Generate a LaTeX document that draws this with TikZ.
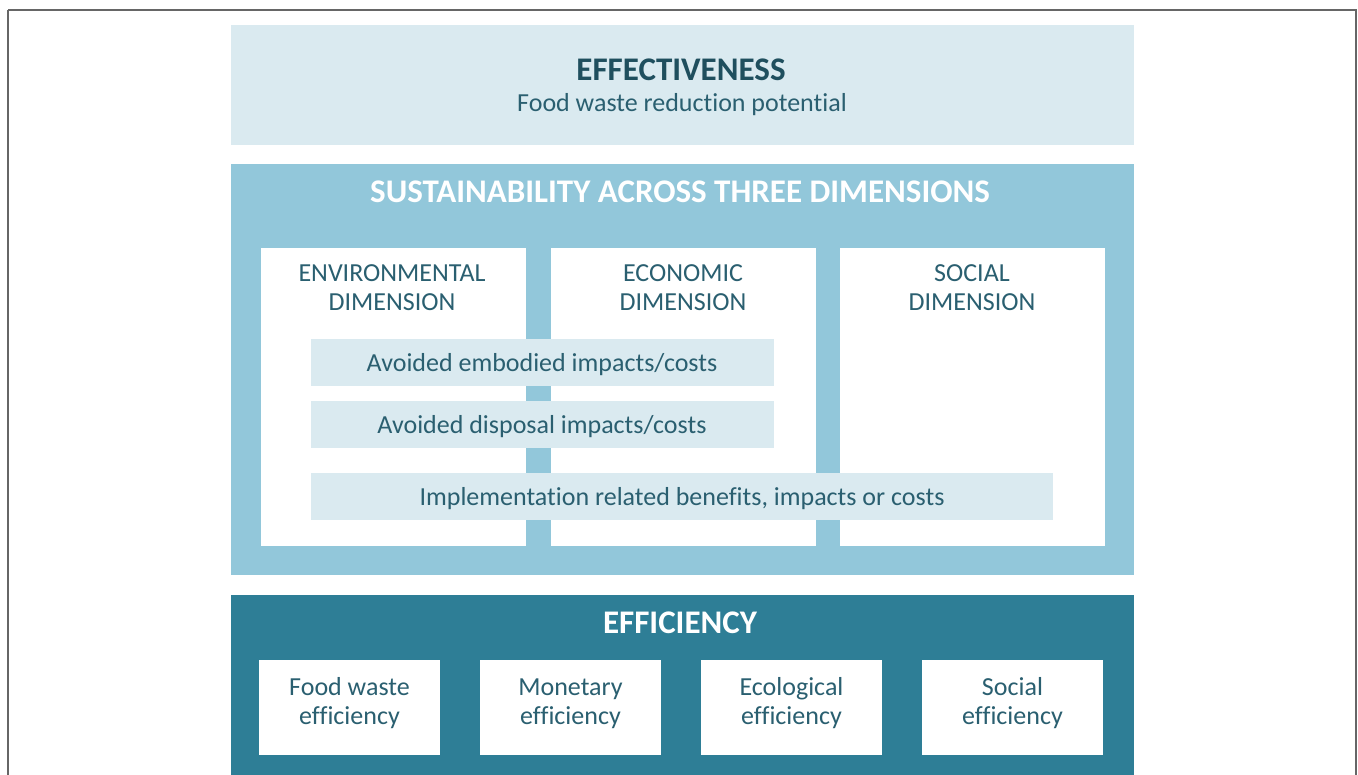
\documentclass[tikz,border=0pt]{standalone}
\usepackage{fontspec}
\setmainfont[Ligatures=NoCommon]{Carlito}
\definecolor{pale}{HTML}{DAEAF0}
\definecolor{mid}{HTML}{92C7DA}
\definecolor{deep}{HTML}{2E7E96}
\definecolor{txt}{HTML}{2A5F70}
\definecolor{ttl}{HTML}{1F4F5E}
\definecolor{frame}{HTML}{666666}
\tikzset{
  box/.style={draw=none, inner sep=0pt, outer sep=0pt, anchor=center},
  lbl/.style={inner sep=0pt, align=center, text=txt, font=\fontsize{26}{29}\selectfont},
  ttlbl/.style={inner sep=0pt, align=center, font=\bfseries\fontsize{33}{36}\selectfont},
}
\begin{document}
\begin{tikzpicture}[x=1pt,y=-1pt]
\useasboundingbox (0,0) rectangle (1358,775);
\fill[white] (0,0) rectangle (1358,775);
\draw[frame, line width=1.2pt] (8,10) -- (1356,10) -- (1356,790) (8,10) -- (8,790);
% effectiveness
\node[box, fill=pale, minimum width=903pt, minimum height=120pt] (eff) at (682.5,85) {};
\node[ttlbl, text=ttl] (efft) at (681,70) {EFFECTIVENESS};
\node[lbl] (effs) at (682,105) {Food waste reduction potential};
% sustainability
\node[box, fill=mid, minimum width=903pt, minimum height=411pt] (sus) at (682.5,369.5) {};
\node[ttlbl, text=white] (sust) at (680,192) {SUSTAINABILITY ACROSS THREE DIMENSIONS};
\node[box, fill=white, minimum width=265pt, minimum height=298pt] (env) at (393.5,397) {};
\node[box, fill=white, minimum width=265pt, minimum height=298pt] (eco) at (683,397) {};
\node[box, fill=white, minimum width=265pt, minimum height=298pt] (soc) at (972.5,397) {};
\node[lbl] (envt) at (392,288) {ENVIRONMENTAL\\DIMENSION};
\node[lbl] (ecot) at (683,288) {ECONOMIC\\DIMENSION};
\node[lbl] (soct) at (972,288) {SOCIAL\\DIMENSION};
\node[box, fill=pale, minimum width=463pt, minimum height=47pt] (emb) at (542,363) {};
\node[lbl] at ([yshift=-2pt]emb.center) {Avoided embodied impacts/costs};
\node[box, fill=pale, minimum width=463pt, minimum height=47pt] (dis) at (542,424.5) {};
\node[lbl] at ([yshift=-2.5pt]dis.center) {Avoided disposal impacts/costs};
\node[box, fill=pale, minimum width=742pt, minimum height=47pt] (imp) at (682,496.5) {};
\node[lbl] at ([yshift=-2.5pt]imp.center) {Implementation related benefits, impacts or costs};
% efficiency
\node[box, fill=deep, minimum width=903pt, minimum height=190pt] (effc) at (682.5,690) {};
\node[ttlbl, text=white] (effct) at (680,623) {EFFICIENCY};
\node[box, fill=white, minimum width=181pt, minimum height=95pt] (e1) at (349.5,707.5) {};
\node[box, fill=white, minimum width=181pt, minimum height=95pt] (e2) at (570.5,707.5) {};
\node[box, fill=white, minimum width=181pt, minimum height=95pt] (e3) at (791.5,707.5) {};
\node[box, fill=white, minimum width=181pt, minimum height=95pt] (e4) at (1012.5,707.5) {};
\node[lbl] at ([yshift=4pt]e1.center) {Food waste\\efficiency};
\node[lbl] at ([yshift=4pt]e2.center) {Monetary\\efficiency};
\node[lbl] at ([yshift=4pt]e3.center) {Ecological\\efficiency};
\node[lbl] at ([yshift=4pt]e4.center) {Social\\efficiency};
\end{tikzpicture}
\end{document}
